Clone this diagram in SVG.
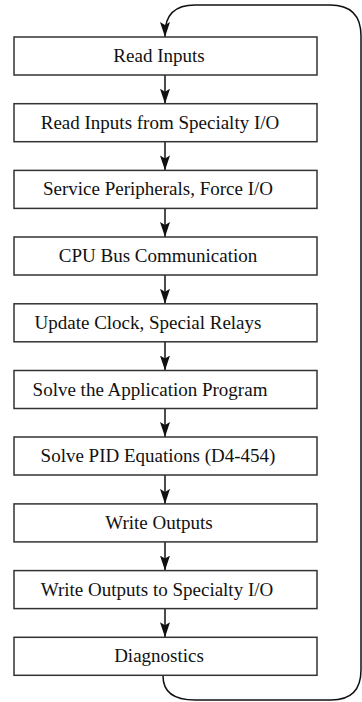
<svg xmlns="http://www.w3.org/2000/svg" width="362" height="702" viewBox="0 0 362 702">
<style>
.box{fill:#fff;stroke:#333;stroke-width:1.5}
.con{fill:none;stroke:#111;stroke-width:1.5}
</style>
<defs>
<marker id="ah" markerWidth="15" markerHeight="10" refX="15" refY="5" orient="auto-start-reverse" markerUnits="userSpaceOnUse" viewBox="0 0 15 10">
<path d="M0,0 L15,5 L0,10 L3,5 Z" fill="#111"/>
</marker>
</defs>
<rect width="362" height="702" fill="#fff"/>
<g id="connectors">
<path class="con" d="M165,37 V34 Q165,5 195,5 H330 Q361,5 361,36 V670 Q361,700 331,700 H195 Q163,700 163,676" marker-start="url(#ah)"/>
<line class="con" x1="165" y1="75" x2="165" y2="103.7" marker-end="url(#ah)"/>
<line class="con" x1="165" y1="141.7" x2="165" y2="170.4" marker-end="url(#ah)"/>
<line class="con" x1="165" y1="208.4" x2="165" y2="237" marker-end="url(#ah)"/>
<line class="con" x1="165" y1="275" x2="165" y2="303.8" marker-end="url(#ah)"/>
<line class="con" x1="165" y1="341.8" x2="165" y2="370.5" marker-end="url(#ah)"/>
<line class="con" x1="165" y1="408.5" x2="165" y2="437" marker-end="url(#ah)"/>
<line class="con" x1="165" y1="475" x2="165" y2="503.9" marker-end="url(#ah)"/>
<line class="con" x1="165" y1="541.9" x2="165" y2="570.6" marker-end="url(#ah)"/>
<line class="con" x1="165" y1="608.6" x2="165" y2="637.3" marker-end="url(#ah)"/>
</g>
<g font-family="Liberation Serif, DejaVu Serif, Times New Roman, serif" font-size="19" fill="#111" text-anchor="middle">
<g id="n1"><rect class="box" x="14" y="37" width="303" height="38"/><text x="159" y="62">Read Inputs</text></g>
<g id="n2"><rect class="box" x="14" y="103.7" width="303" height="38"/><text x="160" y="128.7">Read Inputs from Specialty I/O</text></g>
<g id="n3"><rect class="box" x="14" y="170.4" width="303" height="38"/><text x="158" y="195.4">Service Peripherals, Force I/O</text></g>
<g id="n4"><rect class="box" x="14" y="237" width="303" height="38"/><text x="158" y="262">CPU Bus Communication</text></g>
<g id="n5"><rect class="box" x="14" y="303.8" width="303" height="38"/><text x="148" y="328.8">Update Clock, Special Relays</text></g>
<g id="n6"><rect class="box" x="14" y="370.5" width="303" height="38"/><text x="150" y="395.5">Solve the Application Program</text></g>
<g id="n7"><rect class="box" x="14" y="437" width="303" height="38"/><text x="158" y="462">Solve PID Equations (D4-454)</text></g>
<g id="n8"><rect class="box" x="14" y="503.9" width="303" height="38"/><text x="159" y="528.9">Write Outputs</text></g>
<g id="n9"><rect class="box" x="14" y="570.6" width="303" height="38"/><text x="157" y="595.6">Write Outputs to Specialty I/O</text></g>
<g id="n10"><rect class="box" x="14" y="637.3" width="303" height="38"/><text x="159" y="662.3">Diagnostics</text></g>
</g>
</svg>
